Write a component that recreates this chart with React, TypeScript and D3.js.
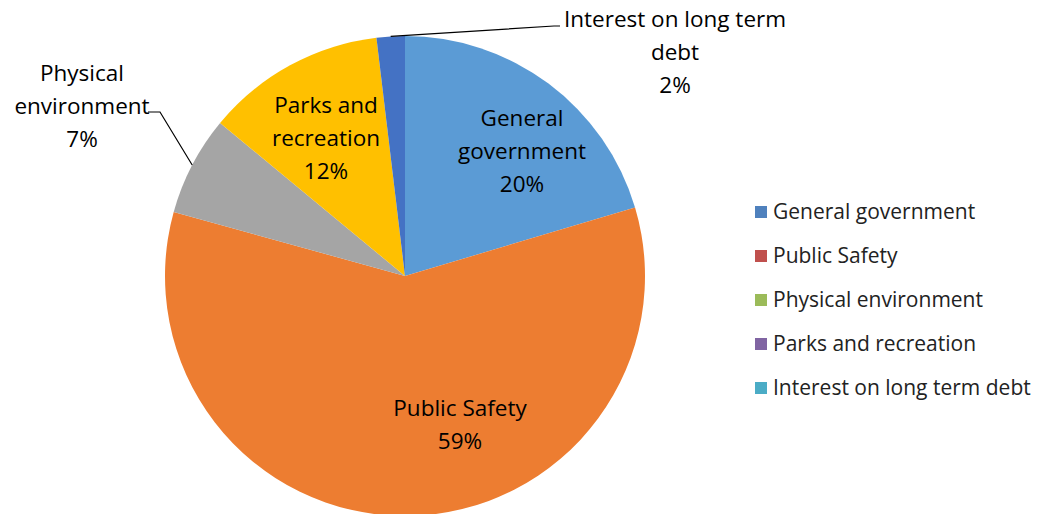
import * as d3 from 'd3';
import { useEffect, useRef } from 'react';

const categories = [
  'General government',
  'Public Safety',
  'Physical environment',
  'Parks and recreation',
  'Interest on long term debt',
];
const shares = [20.4, 58.9, 6.7, 12.1, 1.9];
const sliceColors = ['#5B9BD5', '#ED7D31', '#A5A5A5', '#FFC000', '#4472C4'];
const legendColors = ['#4F81BD', '#C0504D', '#9BBB59', '#8064A2', '#4BACC6'];
const sliceLabels = [
  ['General', 'government'],
  ['Public Safety'],
  ['Physical', 'environment'],
  ['Parks and', 'recreation'],
  ['Interest on long term', 'debt'],
];

const width = 1038;
const height = 514;
const font = '"Open Sans", Lato, sans-serif';

export default function App() {
  const ref = useRef<SVGSVGElement>(null);

  useEffect(() => {
    const svg = d3.select(ref.current);
    svg.selectAll('*').remove();

    const cx = 405;
    const cy = 276;
    const radius = 240;
    const total = d3.sum(shares);

    const data = categories.map((name, i) => ({ name, value: shares[i], i }));
    const pie = d3
      .pie<(typeof data)[number]>()
      .value((d) => d.value)
      .sort(null);
    const arcs = pie(data);
    const arc = d3
      .arc<d3.PieArcDatum<(typeof data)[number]>>()
      .innerRadius(0)
      .outerRadius(radius);

    const g = svg.append('g').attr('transform', `translate(${cx},${cy})`);

    g.selectAll('path')
      .data(arcs)
      .enter()
      .append('path')
      .attr('d', arc)
      .style('fill', (d) => sliceColors[d.data.i]);

    // label positions (relative to centre), inside or outside the pie
    const labelPos: [number, number][] = [
      [117, -125],
      [55, 149],
      [-323, -170],
      [-79, -138],
      [270, -224],
    ];

    const pct = (v: number) => `${Math.round((v / total) * 100)}%`;

    arcs.forEach((a, k) => {
      const lines = [...sliceLabels[k], pct(a.data.value)];
      const [lx, ly] = labelPos[k];
      const lineH = 33;
      const t = g
        .append('text')
        .attr('text-anchor', 'middle')
        .style('font-family', font)
        .style('font-size', '22.5px')
        .style('fill', '#000');
      lines.forEach((s, j) => {
        t.append('tspan')
          .attr('x', lx)
          .attr('y', ly + (j - (lines.length - 1) / 2) * lineH)
          .attr('dy', '0.35em')
          .text(s);
      });
    });

    // leader lines
    const leader = (pts: [number, number][]) =>
      g
        .append('path')
        .attr('d', d3.line()(pts))
        .style('fill', 'none')
        .style('stroke', '#000')
        .style('stroke-width', 1.2);

    const mid = (a: d3.PieArcDatum<(typeof data)[number]>) =>
      (a.startAngle + a.endAngle) / 2;
    const onEdge = (a: d3.PieArcDatum<(typeof data)[number]>): [number, number] => [
      Math.sin(mid(a)) * radius,
      -Math.cos(mid(a)) * radius,
    ];

    const [px, py] = onEdge(arcs[2]);
    leader([
      [px, py],
      [-245, -164],
      [-257, -164],
    ]);
    const [ix, iy] = onEdge(arcs[4]);
    leader([
      [ix, iy],
      [149, -250],
      [155, -250],
    ]);

    // legend
    const legend = svg
      .selectAll('.legend')
      .data(categories)
      .enter()
      .append('g')
      .attr('transform', (d, i) => `translate(755, ${212 + i * 44})`);

    legend
      .append('rect')
      .attr('x', 0)
      .attr('y', -6)
      .attr('width', 12)
      .attr('height', 12)
      .style('fill', (d, i) => legendColors[i]);

    legend
      .append('text')
      .attr('x', 18)
      .attr('y', 0)
      .attr('dy', '0.35em')
      .style('font-family', font)
      .style('font-size', '21px')
      .style('fill', '#222')
      .text((d) => d);
  }, []);

  return (
    <svg
      ref={ref}
      width={width}
      height={height}
      style={{ position: 'absolute', left: 0, top: 0, background: '#fff' }}
    />
  );
}
